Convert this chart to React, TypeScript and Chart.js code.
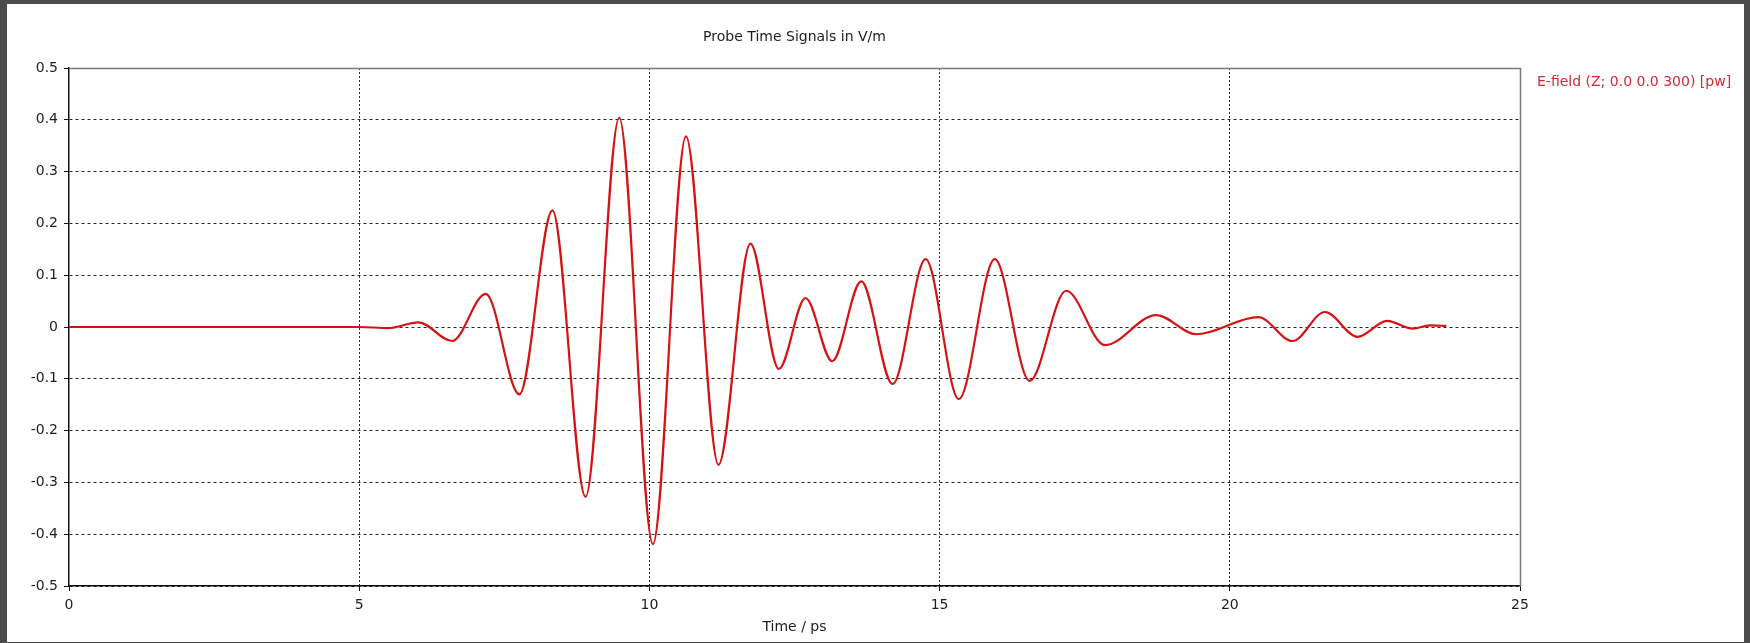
import React, { useEffect, useRef } from "react";
import { Chart, registerables } from "chart.js";

Chart.register(...registerables);

const chartTitle = "Probe Time Signals in V/m";
const xAxisTitle = "Time / ps";
const seriesLabel = "E-field (Z; 0.0 0.0 300) [pw]";

const xTickValues = [0, 5, 10, 15, 20, 25];
const yTickValues = [-0.5, -0.4, -0.3, -0.2, -0.1, 0, 0.1, 0.2, 0.3, 0.4, 0.5];

// Time in ps (turning points)
const timePs = [
  0, 5.0, 5.5, 6.02, 6.6, 7.18, 7.76, 8.33, 8.9, 9.48, 10.06, 10.63, 11.19,
  11.74, 12.23, 12.69, 13.15, 13.65, 14.19, 14.76, 15.33, 15.95, 16.55, 17.18,
  17.85, 18.73, 19.42, 20.49, 21.08, 21.64, 22.2, 22.71, 23.15, 23.45, 23.73,
];

// E-field in V/m
const eField = [
  0, 0, -0.002, 0.009, -0.027, 0.064, -0.13, 0.225, -0.328, 0.404, -0.419,
  0.368, -0.266, 0.161, -0.081, 0.056, -0.066, 0.088, -0.11, 0.131, -0.139,
  0.131, -0.104, 0.07, -0.035, 0.023, -0.014, 0.019, -0.027, 0.029, -0.019,
  0.012, -0.003, 0.003, 0.002,
];

const W = 1750;
const H = 643;
const FONT = "'DejaVu Sans', Verdana, sans-serif";
const TEXT_COLOR = "#1e1e1e";
const LINE_COLOR = "#d41414";
const LEGEND_COLOR = "#cf2b36";

const framePlugin = {
  id: "frameAndTexts",
  beforeDraw(chart: any) {
    const { ctx } = chart;
    ctx.save();
    ctx.fillStyle = "#4b4b4b";
    ctx.fillRect(0, 0, W, H);
    ctx.fillStyle = "#ffffff";
    ctx.fillRect(7, 4, 1737, 638);
    ctx.restore();
  },
  afterDraw(chart: any) {
    const { ctx, chartArea: a } = chart;
    ctx.save();
    ctx.strokeStyle = "#7a7a7a";
    ctx.lineWidth = 1.5;
    ctx.beginPath();
    ctx.moveTo(a.left, a.top + 0.5);
    ctx.lineTo(a.right + 0.5, a.top + 0.5);
    ctx.lineTo(a.right + 0.5, a.bottom);
    ctx.stroke();

    ctx.fillStyle = TEXT_COLOR;
    ctx.font = `14px ${FONT}`;
    ctx.textAlign = "center";
    ctx.textBaseline = "middle";
    ctx.fillText(chartTitle, (a.left + a.right) / 2, 37);

    ctx.fillStyle = LEGEND_COLOR;
    ctx.textAlign = "left";
    ctx.fillText(seriesLabel, a.right + 17, 82);
    ctx.restore();
  },
};

export default function App() {
  const canvasRef = useRef<HTMLCanvasElement | null>(null);

  useEffect(() => {
    if (!canvasRef.current) return;
    const points = timePs.map((t, i) => ({ x: t, y: eField[i] }));
    const chart = new Chart(canvasRef.current, {
      type: "line",
      data: {
        datasets: [
          {
            label: seriesLabel,
            data: points,
            borderColor: LINE_COLOR,
            backgroundColor: LINE_COLOR,
            borderWidth: 2.2,
            pointRadius: 0,
            fill: false,
            cubicInterpolationMode: "monotone",
          },
        ],
      },
      options: {
        animation: false,
        responsive: false,
        devicePixelRatio: 1,
        layout: { padding: { left: 0, top: 68, right: 230, bottom: 0 } },
        plugins: {
          legend: { display: false },
          title: { display: false },
          tooltip: { enabled: false },
        },
        scales: {
          x: {
            type: "linear",
            min: 0,
            max: 25,
            afterBuildTicks: (scale: any) => {
              scale.ticks = xTickValues.map((v) => ({ value: v }));
            },
            afterFit: (scale: any) => {
              scale.height = 57;
            },
            ticks: {
              color: TEXT_COLOR,
              font: { family: FONT, size: 14 },
              padding: 6,
              maxRotation: 0,
              autoSkip: false,
              callback: (v: any) => String(v),
            },
            grid: {
              color: (c: any) =>
                c.tick && (c.tick.value === 0 || c.tick.value === 25)
                  ? "rgba(0,0,0,0)"
                  : "#2a2a2a",
              lineWidth: 1,
              drawTicks: true,
              tickLength: 5,
              tickColor: "#111",
              tickWidth: 1,
            },
            border: { display: true, color: "#111", width: 1.5, dash: [2, 2] },
            title: {
              display: true,
              text: xAxisTitle,
              color: TEXT_COLOR,
              font: { family: FONT, size: 14 },
              padding: { top: 0, bottom: 7 },
            },
          },
          y: {
            type: "linear",
            min: -0.5,
            max: 0.5,
            afterBuildTicks: (scale: any) => {
              scale.ticks = yTickValues.map((v) => ({ value: v }));
            },
            afterFit: (scale: any) => {
              scale.width = 69;
            },
            ticks: {
              color: TEXT_COLOR,
              font: { family: FONT, size: 14 },
              padding: 6,
              autoSkip: false,
              callback: (v: any) => {
                const n = Number(v);
                return Math.abs(n) < 1e-9 ? "0" : n.toFixed(1);
              },
            },
            grid: {
              color: (c: any) =>
                c.tick && Math.abs(c.tick.value - 0.5) < 1e-9
                  ? "rgba(0,0,0,0)"
                  : "#2a2a2a",
              lineWidth: 1,
              drawTicks: true,
              tickLength: 5,
              tickColor: "#111",
              tickWidth: 1,
            },
            border: { display: true, color: "#111", width: 1.5, dash: [3, 3] },
          },
        },
      },
      plugins: [framePlugin],
    } as any);
    return () => chart.destroy();
  }, []);

  return (
    <div style={{ position: "absolute", left: 0, top: 0, width: W, height: H }}>
      <canvas ref={canvasRef} width={W} height={H} style={{ width: W, height: H, display: "block" }} />
    </div>
  );
}
